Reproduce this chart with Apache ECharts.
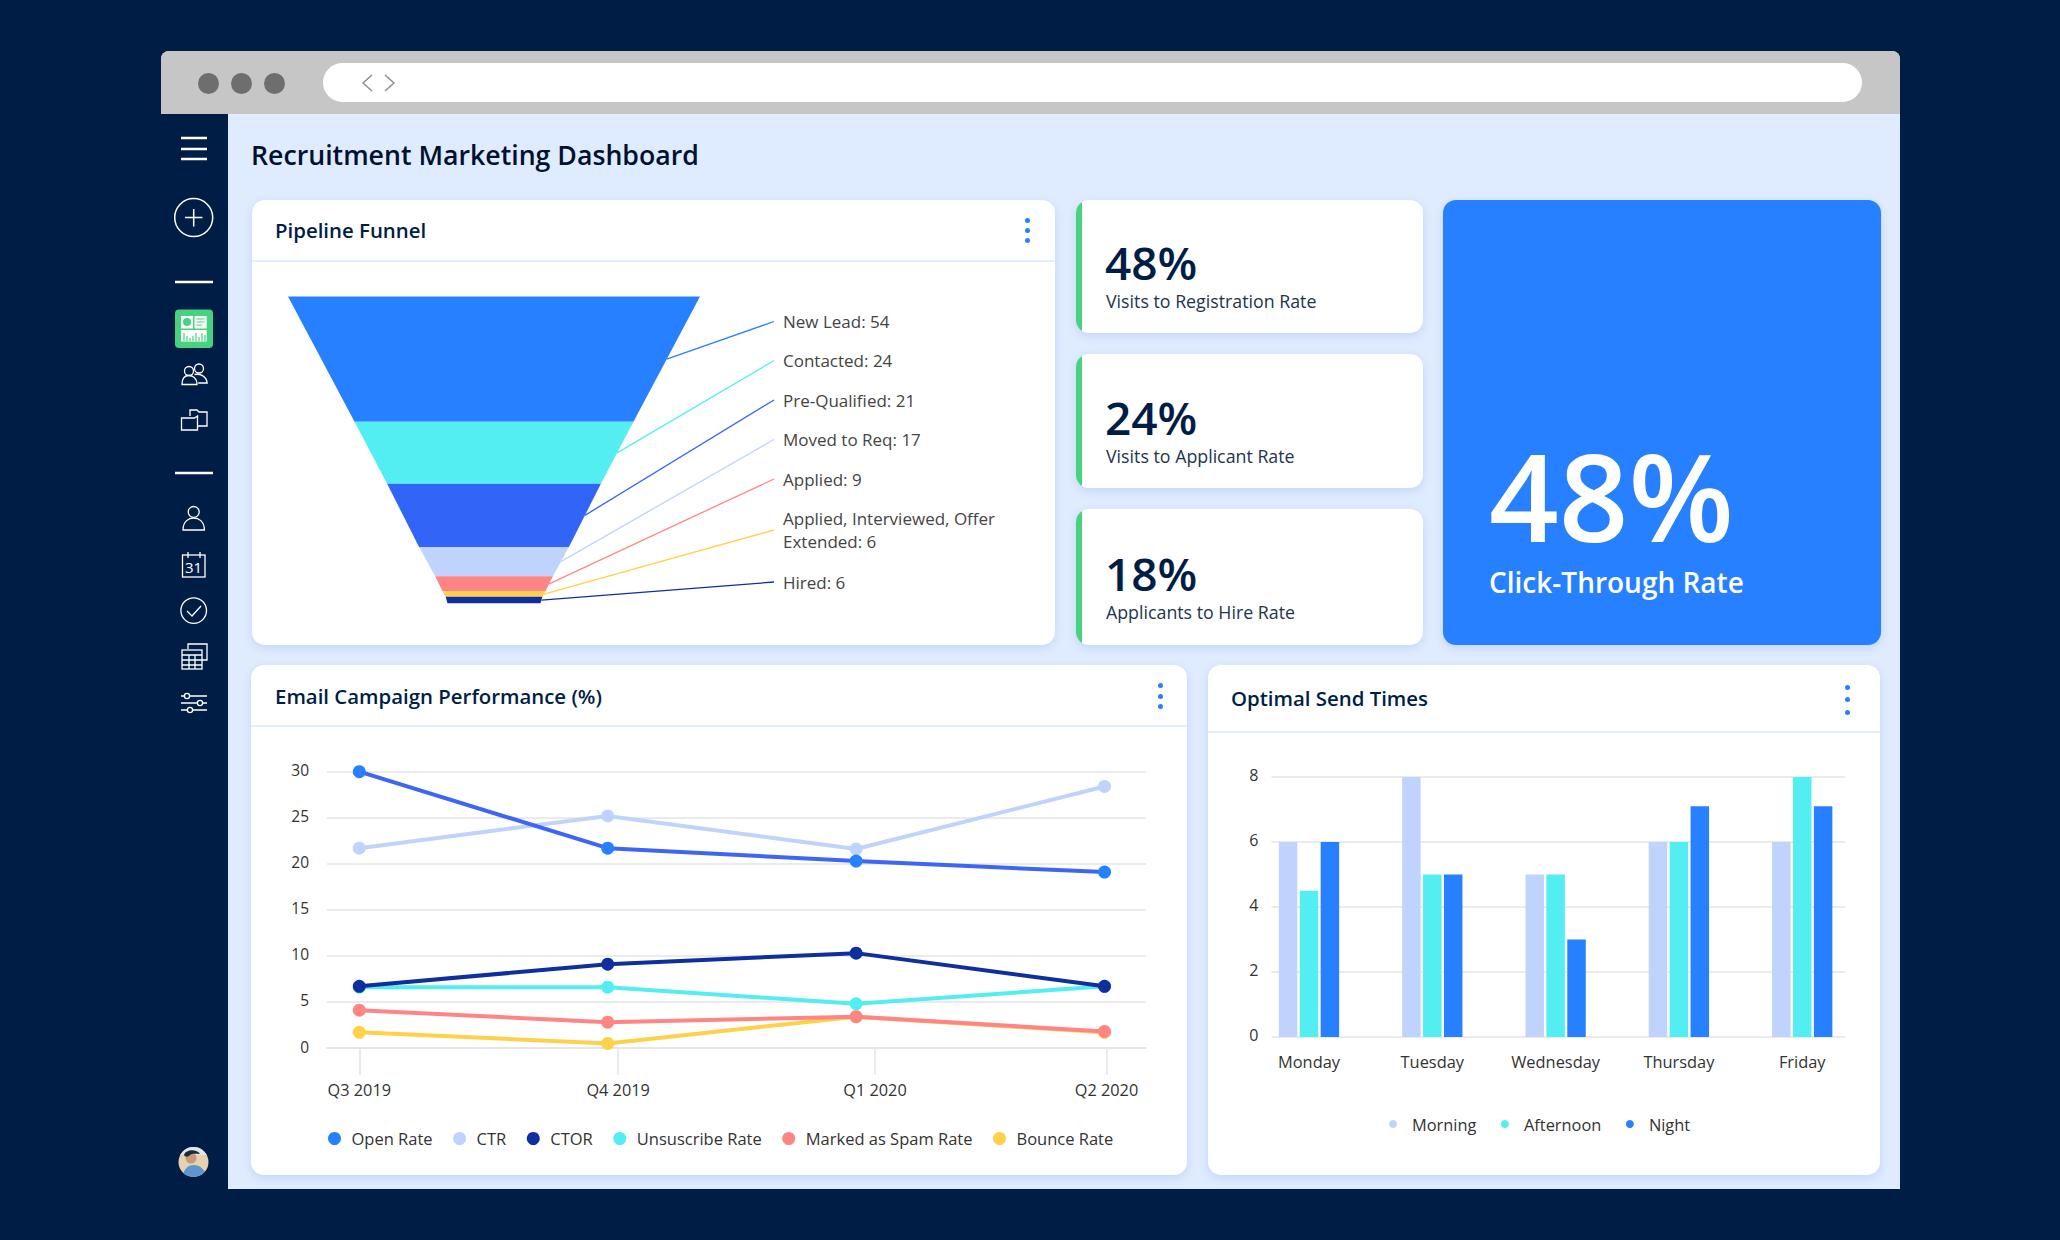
<!DOCTYPE html>
<html lang="en">
<head>
<meta charset="utf-8">
<title>Recruitment Marketing Dashboard</title>
<script src="https://cdn.jsdelivr.net/npm/echarts@6/dist/echarts.min.js"></script>
<style>
html,body{margin:0;padding:0;width:2060px;height:1240px;overflow:hidden;background:#001e45;font-family:"Open Sans",sans-serif}
.a{position:absolute}
.t{position:absolute;white-space:nowrap;line-height:1;transform:translateY(-50%)}
.card{position:absolute;background:#fff;border-radius:13px;box-shadow:0 3px 8px rgba(70,120,230,.18)}
.rule{position:absolute;height:2px;background:#e3eefd}
.h{font-weight:600;font-size:20.4px;color:#001e45}
.dot{position:absolute;width:5px;height:5px;border-radius:50%;background:#2680ff}
.kpi{overflow:hidden}
.kpi:before{content:"";position:absolute;left:0;top:0;bottom:0;width:6px;background:#46d27e}
.n{font-weight:600;font-size:46px;color:#001e45}
.l{font-size:17.8px;color:#22344f}
#chart{position:absolute;left:0;top:0;width:2060px;height:1240px}
</style>
</head>
<body>
<div class="a" style="left:161px;top:51px;width:1739px;height:1138px;background:#dfebfe;border-radius:8px 8px 0 0;overflow:hidden">
  <div class="a" style="left:0;top:0;width:1739px;height:63px;background:#c6c6c6"></div>
  <div class="a" style="left:0;top:63px;width:67px;height:1075px;background:#001e45"></div>
</div>
<div class="a" style="left:198px;top:73px;width:21px;height:21px;border-radius:50%;background:#6e6e6e"></div>
<div class="a" style="left:231px;top:73px;width:21px;height:21px;border-radius:50%;background:#6e6e6e"></div>
<div class="a" style="left:264px;top:73px;width:21px;height:21px;border-radius:50%;background:#6e6e6e"></div>
<div class="a" style="left:323px;top:63px;width:1539px;height:39px;border-radius:20px;background:#fff"></div>
<svg class="a" style="left:0;top:0" width="2060" height="1240" fill="none" stroke="#fff" stroke-width="1.5">
  <path d="M372 75l-9 8 9 8M385 75l9 8-9 8" stroke="#8a8a8a" stroke-width="1.4"/>
  <path d="M181 138h26M181 149h26M181 159h26" stroke-width="2.6"/>
  <circle cx="193.7" cy="217.6" r="19"/><path d="M185 217.6h17.4M193.7 209v17.4"/>
  <path d="M175 282h38M175 473h38" stroke-width="2.4"/>
  <rect x="175" y="309.5" width="38" height="38.5" rx="4" fill="#46d27e" stroke="none"/>
  <rect x="181" y="316" width="12" height="12.5" fill="#fff" stroke="none"/><rect x="194.5" y="316" width="12.2" height="12.5" fill="#fff" stroke="none"/>
  <rect x="181" y="330" width="25.7" height="11.500" fill="#fff" stroke="none"/>
  <circle cx="187" cy="322" r="4" fill="#46d27e" stroke="none"/><path d="M196.5 319h8M196.5 322h8M196.5 325h6" stroke="#46d27e" stroke-width="1.2"/>
  <path d="M184 341v-8M187 341v-5M190 341v-3M193 341v-5M196 341v-8M199 341v-4M202 341v-8M205 341v-6" stroke="#46d27e" stroke-width="1.2"/>
  <g stroke-width="1.3"><circle cx="189" cy="371" r="4.500"/><circle cx="199" cy="368.500" r="4.500"/><path d="M182 384.500c0-8 4-9 7-9s8 2 8 9zM194.500 374.500c5-1 12 1 12.700 8.500h-9"/>
  <path d="M181.500 418h13l3-2v14h-16zM190 416v-6h7l2 2h8v14h-9"/>
  <circle cx="193.700" cy="512" r="5.500"/><path d="M183 530c0-9 6-12 10.700-12s10.700 3 10.700 12z"/>
  <rect x="182.500" y="555" width="22.500" height="22"/><path d="M188 552v6M200 552v6"/>
  <circle cx="193.700" cy="610.600" r="12.800"/><path d="M187 611l5 5 9-10"/>
  <path d="M188 649v-5h19v16h-5"/><rect x="182" y="650" width="20" height="19" fill="#001e45"/><path d="M182 655h20M182 660h20M182 665h20M189 655v14M195 655v14"/>
  <path d="M181 696h26M181 703h26M181 710h26"/></g>
  <g fill="#001e45" stroke-width="1.300"><circle cx="187" cy="696" r="2.600"/><circle cx="200" cy="703" r="2.600"/><circle cx="190" cy="710" r="2.600"/></g>
  <clipPath id="av"><circle cx="193.500" cy="1162" r="15"/></clipPath>
  <g clip-path="url(#av)" stroke="none">
    <rect x="178" y="1147" width="31" height="31" fill="#e6d2b0"/>
    <rect x="178" y="1147" width="31" height="8" fill="#dfe6ea"/>
    <path d="M183 1178c0-10 6-13 11-13s12 4 12 13z" fill="#5f95cf"/>
    <circle cx="191" cy="1158" r="5.500" fill="#c79a7c"/>
    <path d="M184 1155c2-6 13-6 16-1-4 0-9-1-11 2-2 1-4 1-5-1z" fill="#1e2a38"/>
  </g>
</svg>
<div class="t" style="left:193.500px;top:567px;transform:translate(-50%,-50%);font-size:15px;color:#fff">31</div>

<div class="t" id="pageTitle" style="left:251px;top:155px;font-size:26.700px;font-weight:600;color:#001030">Recruitment Marketing Dashboard</div>

<div class="card" style="left:252px;top:200px;width:803px;height:445px">
  <div class="rule" style="left:0;right:0;top:60px"></div>
</div>
<div class="t h" style="left:275px;top:230px">Pipeline Funnel</div>
<div class="dot" style="left:1025px;top:218px"></div><div class="dot" style="left:1025px;top:228px"></div><div class="dot" style="left:1025px;top:238px"></div>

<div class="card kpi" style="left:1076px;top:200px;width:347px;height:133px"></div>
<div class="card kpi" style="left:1076px;top:354px;width:347px;height:134px"></div>
<div class="card kpi" style="left:1076px;top:509px;width:347px;height:136px"></div>
<div class="t n" style="left:1105px;top:261.500px">48%</div><div class="t l" style="left:1106px;top:302px">Visits to Registration Rate</div>
<div class="t n" style="left:1105px;top:416.500px">24%</div><div class="t l" style="left:1106px;top:457px">Visits to Applicant Rate</div>
<div class="t n" style="left:1105px;top:572.500px">18%</div><div class="t l" style="left:1106px;top:613px">Applicants to Hire Rate</div>

<div class="card" style="left:1443px;top:200px;width:437.500px;height:445px;background:#2680ff"></div>
<div class="t" style="left:1489px;top:495px;font-size:122px;font-weight:600;color:#fff">48%</div>
<div class="t" style="left:1489px;top:582px;font-size:28px;font-weight:600;color:#fff">Click-Through Rate</div>

<div class="card" style="left:251px;top:665px;width:936px;height:510px">
  <div class="rule" style="left:0;right:0;top:60px"></div>
</div>
<div class="t h" style="left:275px;top:695.500px">Email Campaign Performance (%)</div>
<div class="dot" style="left:1157.500px;top:683px"></div><div class="dot" style="left:1157.500px;top:693.500px"></div><div class="dot" style="left:1157.500px;top:704px"></div>

<div class="card" style="left:1208px;top:665px;width:672px;height:510px">
  <div class="rule" style="left:0;right:0;top:66px"></div>
</div>
<div class="t h" style="left:1231px;top:698px">Optimal Send Times</div>
<div class="dot" style="left:1845px;top:684.500px"></div><div class="dot" style="left:1845px;top:697px"></div><div class="dot" style="left:1845px;top:709.500px"></div>

<div id="chart"></div>
<script>
// ---- data ----
const funnelStages = ['New Lead','Contacted','Pre-Qualified','Moved to Req','Applied','Applied, Interviewed, Offer Extended','Hired'];
const funnelCounts = [54,24,21,17,9,6,6];
// the funnel is drawn as a straight-sided cone: drawn top width and slice height, % of the whole
const funnelDrawnWidth = [100,67.7,51.9,36.4,28.6,25,23.5];
const funnelDrawnHeight = [40.9,20.2,20.6,9.6,4.9,1.8,2.1];

const quarters = ['Q3 2019','Q4 2019','Q1 2020','Q2 2020'];
const openRate   = [30,21.7,20.3,19.1];
const ctr        = [21.7,25.2,21.6,28.4];
const ctor       = [6.7,9.1,10.3,6.7];
const unsubscribe= [6.6,6.6,4.8,6.7];
const spamRate   = [4.1,2.8,3.4,1.8];
const bounceRate = [1.7,0.5,3.4,1.7];

const weekdays = ['Monday','Tuesday','Wednesday','Thursday','Friday'];
const morning   = [6,8,5,6,6];
const afternoon = [4.5,5,5,6,8];
const night     = [6,5,3,7.1,7.1];

// ---- styles and layout ----
const FONT = '"Open Sans", sans-serif';
const C = {blue:'#2680ff',cyan:'#52eef2',royal:'#3264f8',pale:'#c0d3fd',coral:'#ff8585',gold:'#ffd04a',navy:'#0f2f9f',grid:'#e4e4e4',text:'#333'};
const funnelColors = [C.blue,C.cyan,C.royal,C.pale,C.coral,C.gold,C.navy];
const funnelLabelY = [321.5,360.5,400,439.5,479,530,582];
const quarterLabelSlots = [0,1.042,2.076,3.008];

const lineSeries = (name,values,color,lineColor,z)=>({
  type:'line',name,z,xAxisIndex:0,yAxisIndex:0,
  data:values.map((v,i)=>[i,v]),
  symbol:'circle',symbolSize:13,showSymbol:true,
  itemStyle:{color},lineStyle:{color:lineColor||color,width:4}
});
const barSeries = (name,values,color)=>({
  type:'bar',name,xAxisIndex:1,yAxisIndex:1,
  data:values.map((v,i)=>[i,v]),
  barWidth:18.5,barGap:'13%',itemStyle:{color}
});
const chart = echarts.init(document.getElementById('chart'),null,{renderer:'svg',width:2060,height:1240});
chart.setOption({
  animation:false,
  backgroundColor:'transparent',
  textStyle:{fontFamily:FONT},
  grid:[
    {left:327,top:771.7,width:819,height:276.3,outerBoundsMode:'none'},
    {left:1271.4,top:777,width:573.6,height:260,outerBoundsMode:'none'}
  ],
  xAxis:[
    {gridIndex:0,type:'value',min:-0.13,max:3.167,splitLine:{show:false},
     axisLine:{show:true,onZero:false,lineStyle:{color:C.grid,width:1.5}},
     axisTick:{show:true,length:27,customValues:quarterLabelSlots,lineStyle:{color:C.grid,width:1.5}},
     axisLabel:{customValues:quarterLabelSlots,margin:34,fontSize:16.3,color:C.text,fontFamily:FONT,formatter:v=>quarters[Math.round(v)]}},
    {gridIndex:1,type:'value',min:-0.305,max:4.347,splitLine:{show:false},axisLine:{show:false},axisTick:{show:false},
     axisLabel:{customValues:[0,1,2,3,4],margin:16,fontSize:16.4,color:C.text,fontFamily:FONT,formatter:v=>weekdays[Math.round(v)]}}
  ],
  yAxis:[
    {gridIndex:0,type:'value',min:0,max:30,interval:5,axisLine:{show:false},axisTick:{show:false},
     splitLine:{lineStyle:{color:C.grid,width:1.5}},axisLabel:{margin:18,fontSize:15.5,verticalAlign:'bottom',lineHeight:3,color:C.text,fontFamily:FONT}},
    {gridIndex:1,type:'value',min:0,max:8,interval:2,axisLine:{show:false},axisTick:{show:false},
     splitLine:{lineStyle:{color:C.grid,width:1.5}},axisLabel:{margin:13,fontSize:16,verticalAlign:'bottom',lineHeight:5,color:C.text,fontFamily:FONT}}
  ],
  legend:[
    {left:323,top:1125,orient:'horizontal',icon:'circle',itemWidth:24,itemHeight:13,itemGap:20.5,selectedMode:false,
     textStyle:{fontSize:16.5,color:C.text,fontFamily:FONT},
     data:['Open Rate','CTR','CTOR','Unsuscribe Rate','Marked as Spam Rate','Bounce Rate']},
    {left:1384,top:1111,orient:'horizontal',icon:'circle',itemWidth:28,itemHeight:8,itemGap:24.5,selectedMode:false,
     textStyle:{fontSize:16.4,color:C.text,fontFamily:FONT},
     data:['Morning','Afternoon','Night']}
  ],
  series:[
    {
      type:'funnel',left:288,top:296.5,width:412,height:306.5,
      sort:'none',gap:0,min:22.6,max:100,minSize:93,maxSize:412,funnelAlign:'center',
      label:{show:true,position:'right',fontSize:17,fontWeight:500,color:'#444',fontFamily:FONT,lineHeight:23,
        padding:[0,0,0,9],width:240,overflow:'break',
        formatter:p=>p.name+': '+funnelCounts[p.dataIndex]},
      labelLine:{show:true,length:60,length2:0,lineStyle:{width:1.3}},
      labelLayout:p=>({x:774,y:funnelLabelY[p.dataIndex],align:'left',verticalAlign:'middle'}),
      data:funnelStages.map((name,i)=>({
        name,value:funnelDrawnWidth[i],
        itemStyle:{color:funnelColors[i],height:funnelDrawnHeight[i]+'%',borderWidth:0},
        labelLine:{lineStyle:{color:funnelColors[i]}}
      }))
    },
    lineSeries('Open Rate',openRate,C.blue,'#3e66f5',4),
    lineSeries('CTR',ctr,C.pale,null,3),
    lineSeries('CTOR',ctor,C.navy,null,4),
    lineSeries('Unsuscribe Rate',unsubscribe,C.cyan,null,2),
    lineSeries('Marked as Spam Rate',spamRate,C.coral,null,3),
    lineSeries('Bounce Rate',bounceRate,C.gold,null,2),
    barSeries('Morning',morning,C.pale),
    barSeries('Afternoon',afternoon,C.cyan),
    barSeries('Night',night,C.blue)
  ]
});
</script>
</body>
</html>
